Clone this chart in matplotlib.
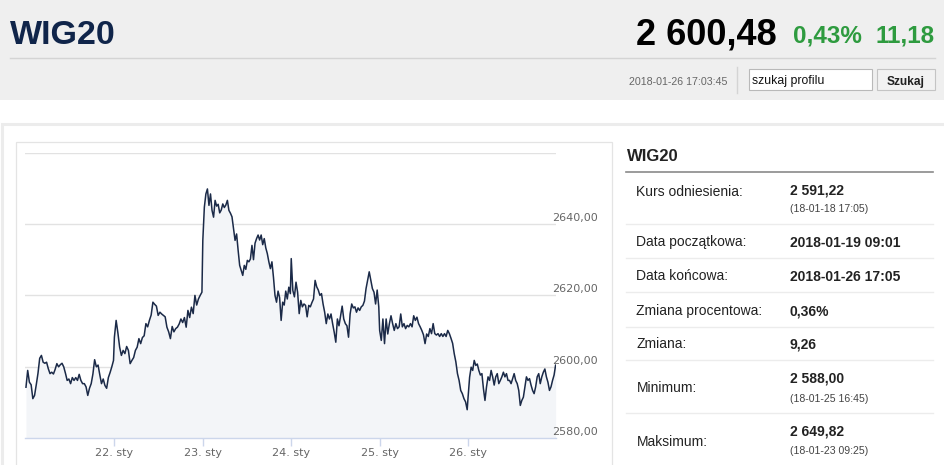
import numpy as np
import matplotlib
matplotlib.use('Agg')
import matplotlib.pyplot as plt
from matplotlib.patches import Rectangle
import matplotlib.transforms as mtransforms

# ---------------- data ----------------
day19 = [2594.3, 2599.0, 2595.7, 2595.0, 2591.1, 2592.0, 2595.0, 2598.2, 2602.4, 2603.2,
         2601.3, 2601.0, 2601.3, 2599.5, 2598.1, 2598.5, 2598.0, 2599.3, 2600.9, 2600.0,
         2600.6, 2601.0, 2600.0, 2598.2, 2596.2, 2596.6, 2595.3, 2597.0, 2596.2, 2597.0,
         2596.2, 2597.9, 2596.2, 2595.3, 2595.3, 2594.4, 2592.0, 2594.0, 2595.3, 2598.0,
         2602.0, 2600.0, 2600.5, 2597.8, 2595.3, 2596.6, 2594.8, 2594.0, 2597.0, 2598.4,
         2600.0, 2601.8]
day22 = [2608.3, 2613.0, 2609.5, 2605.5, 2603.2, 2604.6, 2603.7, 2605.7, 2604.6, 2600.9,
         2601.8, 2602.6, 2604.6, 2605.5, 2607.9, 2606.5, 2608.2, 2608.7, 2612.1, 2611.2,
         2613.0, 2614.5, 2618.1, 2617.5, 2617.0, 2614.4, 2615.3, 2614.8, 2614.4, 2614.0,
         2611.1, 2609.8, 2607.9, 2611.3, 2609.8, 2610.7, 2611.1, 2612.0, 2613.4, 2612.4,
         2613.8, 2611.1, 2615.8, 2613.8, 2616.7, 2614.9, 2620.0, 2617.3, 2619.0, 2620.0,
         2620.9]
day23 = [2635.4, 2644.7, 2648.4, 2649.8, 2645.2, 2648.4, 2643.8, 2641.9, 2646.6, 2645.0,
         2645.5, 2643.1, 2643.9, 2645.6, 2644.6, 2645.3, 2646.6, 2643.8, 2643.0, 2642.0,
         2638.6, 2635.4, 2637.2, 2632.6, 2628.4, 2627.0, 2625.6, 2628.4, 2627.3, 2629.8,
         2629.4, 2630.2, 2634.0, 2630.0, 2634.6, 2635.9, 2636.9, 2635.5, 2636.9, 2634.2,
         2635.9, 2633.3, 2631.7, 2629.4, 2627.5, 2629.4, 2625.1, 2620.0, 2618.1, 2621.2,
         2619.4, 2613.0, 2618.1, 2617.3, 2621.2, 2619.0, 2622.3, 2620.5]
day24 = [2630.3, 2621.4, 2619.6, 2623.7, 2620.9, 2614.9, 2618.6, 2616.8, 2617.6, 2617.2,
         2614.0, 2617.2, 2616.8, 2618.0, 2619.0, 2624.2, 2622.4, 2621.5, 2620.0, 2620.5,
         2617.6, 2615.3, 2612.1, 2614.8, 2613.4, 2614.8, 2612.1, 2609.7, 2606.9, 2613.4,
         2611.5, 2614.3, 2617.0, 2613.4, 2612.1, 2611.5, 2608.3, 2614.8, 2617.6, 2616.5,
         2616.8, 2615.3, 2616.5, 2615.8, 2616.8, 2617.2, 2618.4, 2621.9, 2624.2, 2626.6,
         2624.2, 2621.9, 2620.9, 2617.6, 2621.5, 2616.8]
day25 = [2610.2, 2607.4, 2613.4, 2606.5, 2613.4, 2609.2, 2612.1, 2614.3, 2612.1, 2610.2,
         2612.1, 2610.7, 2611.2, 2614.8, 2611.2, 2612.1, 2610.7, 2611.6, 2611.2, 2612.1,
         2611.2, 2614.3, 2613.0, 2613.9, 2612.1, 2611.2, 2610.2, 2609.0, 2606.5, 2609.2,
         2608.5, 2610.7, 2609.3, 2612.1, 2609.3, 2608.9, 2609.3, 2608.5, 2609.3, 2608.5,
         2609.3, 2608.5, 2610.2, 2609.3, 2608.0, 2606.6, 2603.7, 2601.4, 2598.1, 2596.2,
         2593.4, 2592.5, 2591.1, 2590.2, 2588.0]
day26 = [2591.5, 2597.1, 2599.9, 2599.0, 2601.8, 2600.4, 2600.8, 2599.0, 2597.7, 2598.1,
         2593.9, 2590.6, 2594.4, 2597.2, 2596.2, 2599.0, 2597.2, 2594.9, 2597.2, 2598.1,
         2595.3, 2596.2, 2597.2, 2598.5, 2597.2, 2598.1, 2596.2, 2596.2, 2595.3, 2596.7,
         2598.1, 2596.2, 2595.3, 2593.4, 2589.2, 2590.6, 2591.5, 2594.4, 2597.2, 2596.2,
         2596.7, 2594.9, 2593.4, 2592.5, 2594.4, 2597.2, 2598.1, 2595.3, 2597.2, 2598.5,
         2599.4, 2597.2, 2595.7, 2593.4, 2594.4, 2596.2, 2597.7, 2600.48]
days = [day19, day22, day23, day24, day25, day26]

x_tick_labels = ['22. sty', '23. sty', '24. sty', '25. sty', '26. sty']
y_ticks = [2580, 2600, 2620, 2640]
y_grid = [2580, 2600, 2620, 2640, 2660]

header_name = 'WIG20'
last_price = '2 600,48'
change_pct = '0,43%'
change_abs = '11,18'
timestamp = '2018-01-26 17:03:45'
search_placeholder = 'szukaj profilu'
search_button = 'Szukaj'

panel_title = 'WIG20'
row_labels = ['Kurs odniesienia:', 'Data początkowa:', 'Data końcowa:',
              'Zmiana procentowa:', 'Zmiana:', 'Minimum:', 'Maksimum:']
row_values = ['2 591,22', '2018-01-19 09:01', '2018-01-26 17:05',
              '0,36%', '9,26', '2 588,00', '2 649,82']
row_subvalues = ['(18-01-18 17:05)', '', '', '', '', '(18-01-25 16:45)', '(18-01-23 09:25)']

# ---------------- figure ----------------
W, H = 945, 465
fig = plt.figure(figsize=(W / 100, H / 100), dpi=100)
fig.patch.set_facecolor('white')

bg = fig.add_axes([0, 0, 1, 1])
bg.set_xlim(0, W)
bg.set_ylim(H, 0)
bg.axis('off')
bg.set_zorder(0)

SANS = ['Liberation Sans', 'DejaVu Sans']

# header band
bg.add_patch(Rectangle((0, 0), W, 100, facecolor='#efefef', edgecolor='none'))
bg.plot([10, 935], [58.5, 58.5], color='#d4d4d4', lw=1.0)
bg.text(10, 44, header_name, family=SANS, fontsize=24.5, fontweight='bold',
        color='#10254a', ha='left', va='baseline')
bg.text(777, 44.5, last_price, family=SANS, fontsize=26, fontweight='bold',
        color='#000000', ha='right', va='baseline')
bg.text(862, 43, change_pct, family=SANS, fontsize=17.5, fontweight='bold',
        color='#2e9b3f', ha='right', va='baseline')
bg.text(935, 43, change_abs, family=SANS, fontsize=17.5, fontweight='bold',
        color='#2e9b3f', ha='right', va='baseline')
bg.text(727, 85, timestamp, family=SANS, fontsize=7.7, color='#666666',
        ha='right', va='baseline')
bg.plot([736.5, 736.5], [67, 93], color='#d4d4d4', lw=1.0)
bg.add_patch(Rectangle((749, 69), 123, 21, facecolor='white', edgecolor='#b9b9b9', lw=0.8))
bg.text(752, 84, search_placeholder, family=SANS, fontsize=8.8, color='#111111',
        ha='left', va='baseline')
bg.add_patch(Rectangle((877, 69), 58, 21, facecolor='#f2f2f2', edgecolor='#c4c4c4', lw=0.8))
bg.text(906, 85, search_button, family=SANS, fontsize=8.6, fontweight='bold',
        color='#222222', ha='center', va='baseline')

# outer panel frame
bg.add_patch(Rectangle((1.5, 123.5), W + 5, 400, facecolor='white',
                       edgecolor='#ececec', lw=2.2))
# chart panel border
bg.add_patch(Rectangle((15.5, 141.5), 596, 400, facecolor='white',
                       edgecolor='#e4e4e4', lw=0.9))

# right info panel
bg.text(627, 160.7, panel_title, family=SANS, fontsize=12, fontweight='bold',
        color='#222222', ha='left', va='baseline')
bg.plot([626, 932.5], [171.8, 171.8], color='#8a8a8a', lw=1.2)
sep_y = [224.3, 258.3, 292.3, 326.7, 360.0, 412.7]
for yy in sep_y:
    bg.plot([626, 932.5], [yy, yy], color='#ececec', lw=1.0)
label_base = [195.7, 245.7, 280.0, 315.0, 348.3, 392.3, 446.0]
value_base = [194.0, 246.5, 280.5, 315.0, 348.3, 382.7, 435.0]
sub_base = [211.5, 0, 0, 0, 0, 402.0, 453.7]
for lab, val, sub, lb, vb, sb in zip(row_labels, row_values, row_subvalues,
                                     label_base, value_base, sub_base):
    bg.text(636.5, lb, lab, family=SANS, fontsize=10, color='#222222',
            ha='left', va='baseline')
    bg.text(790, vb, val, family=SANS, fontsize=10, fontweight='bold',
            color='#222222', ha='left', va='baseline')
    if sub:
        bg.text(790, sb, sub, family=SANS, fontsize=7.6, color='#444444',
                ha='left', va='baseline')

# ---------------- chart ----------------
left, right, top, bottom = 25, 556.5, 152.5, 438.3
ax = fig.add_axes([left / W, (H - bottom) / H, (right - left) / W, (bottom - top) / H])
ax.set_zorder(2)
ax.patch.set_alpha(0)

xs_all, ys_all = [], []
for d, vals in enumerate(days):
    n = len(vals)
    xs_all.extend(d + np.linspace(0, 0.99, n))
    ys_all.extend(vals)
xs_all = np.array(xs_all)
ys_all = np.array(ys_all)

ax.fill_between(xs_all, ys_all, 2580, color='#f3f5f8', lw=0, zorder=1)
ax.plot(xs_all, ys_all, color='#1b2a48', lw=1.1, zorder=3, solid_joinstyle='round')

for g in y_grid[1:]:
    ax.axhline(g, color='#e2e2e2', lw=1.0, zorder=0.5)

ax.set_xlim(-0.011, 6.0)
ax.set_ylim(2580, 2660)
for s in ['top', 'right', 'left']:
    ax.spines[s].set_visible(False)
ax.spines['bottom'].set_color('#ccd6eb')
ax.spines['bottom'].set_linewidth(1.0)
ax.set_yticks([])
ax.set_xticks(range(1, 6))
ax.set_xticklabels(x_tick_labels, family='DejaVu Sans', fontsize=8, color='#666666')
ax.tick_params(axis='x', length=6, width=1.0, color='#ccd6eb', pad=1)

trans = mtransforms.blended_transform_factory(ax.transAxes, ax.transData)
for v in y_ticks:
    ax.text(0.9925, v + 0.9, f'{v:.2f}'.replace('.', ','), transform=trans,
            family='DejaVu Sans', fontsize=8, color='#666666',
            ha='left', va='baseline', clip_on=False)

fig.savefig('out.png', dpi=100, facecolor='white')
